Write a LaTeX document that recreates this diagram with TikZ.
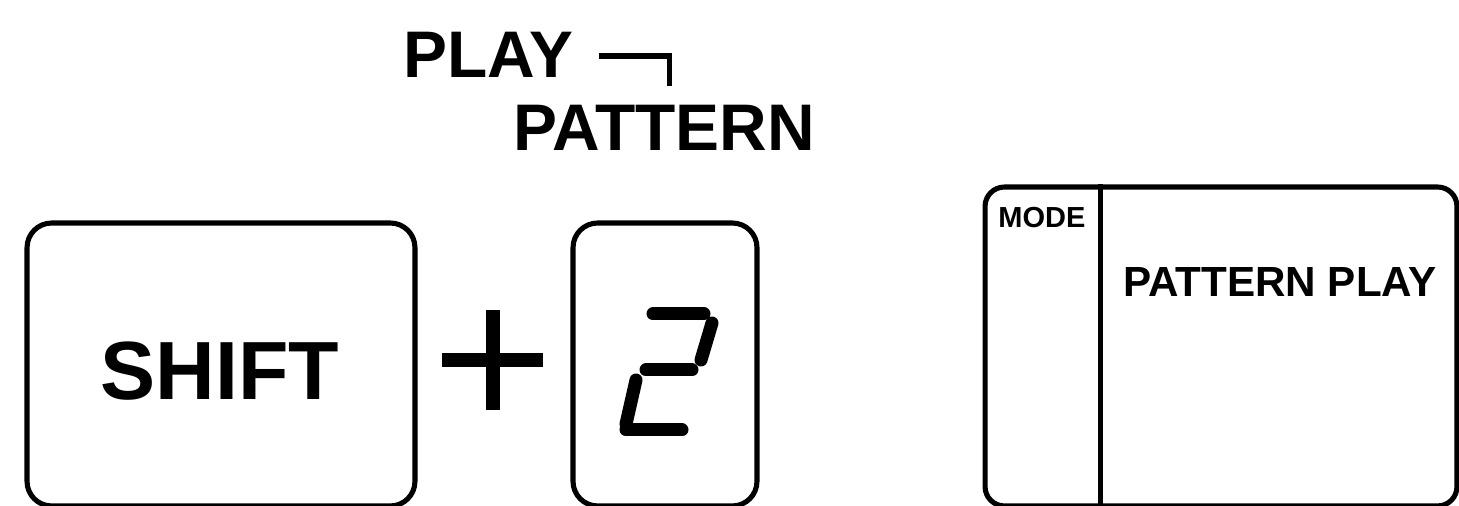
\documentclass[tikz,border=0pt]{standalone}
\usepackage{fontspec}
\setmainfont{Liberation Sans}
\usetikzlibrary{positioning}
\tikzset{
  keybox/.style={draw=black, rounded corners=14pt, line width=2.9pt, inner sep=0pt, align=center},
  panelbox/.style={draw=black, rounded corners=11pt, line width=2.9pt, inner sep=0pt},
  keylabel/.style={inner sep=0pt, font=\fontsize{47}{50}\selectfont\bfseries},
  toplabel/.style={inner sep=0pt, anchor=north west, font=\fontsize{37.5}{40}\selectfont\bfseries},
  paneltext/.style={inner sep=0pt, anchor=north west, font=\fontsize{24}{28}\selectfont\bfseries},
  smalltext/.style={inner sep=0pt, anchor=north west, font=\fontsize{16.5}{18}\selectfont\bfseries},
  bracketline/.style={line width=3.2pt},
  segment/.style={line width=7.4pt, line cap=round},
  plusbar/.style={line width=8.5pt}
}
\begin{document}
\begin{tikzpicture}[x=0.02cm,y=0.02cm]
  \useasboundingbox (0,0) rectangle (1459,506);

  % keys
  \node[keybox, minimum width=7.76cm, minimum height=5.66cm] (shiftkey) at (221,141.5) {};
  \node[keylabel] (shiftlbl) at (220,135) {SHIFT};
  \node[keybox, minimum width=3.68cm, minimum height=5.66cm] (digitkey) at (665,141.5) {};

  % plus sign
  \draw[plusbar] (442,146) -- (543,146);
  \draw[plusbar] (493,96) -- (493,196);

  % digit 2 (segments)
  \draw[segment] (653,192) -- (704,192);
  \draw[segment] (712,183) -- (701,146);
  \draw[segment] (646,136) -- (692,136);
  \draw[segment] (636,126) -- (626,82);
  \draw[segment] (626,76) -- (682,76);

  % labels above
  \node[toplabel] (playlbl) at (403,474) {PLAY};
  \node[toplabel] (patternlbl) at (513,401) {PATTERN};
  \draw[bracketline] (playlbl.east) ++(26,-1) -- ++(70,0) -- ++(0,-30);

  % display panel
  \node[panelbox, minimum width=9.44cm, minimum height=6.38cm] (modepanel) at (1221,159.5) {};
  \draw[line width=2.6pt] ([xshift=2.36cm]modepanel.north west) -- ([xshift=2.36cm]modepanel.south west);
  \node[smalltext] (modelbl) at (998,299) {MODE};
  \node[paneltext] (modetext) at (1123,239) {PATTERN PLAY};
\end{tikzpicture}
\end{document}
